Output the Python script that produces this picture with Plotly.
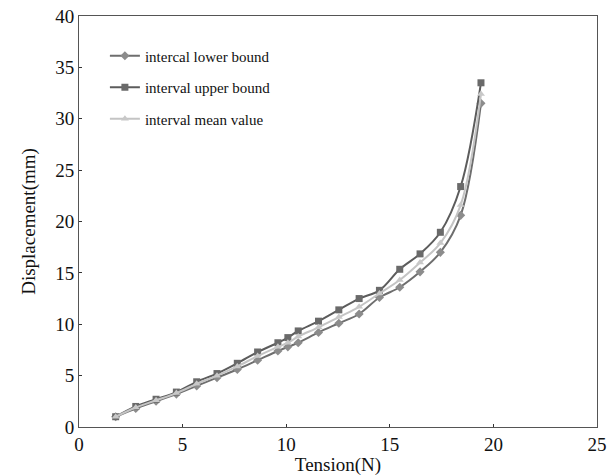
import plotly.graph_objects as go

tension = [1.77, 2.74, 3.72, 4.70, 5.68, 6.66, 7.64, 8.62, 9.60, 10.08,
           10.58, 11.56, 12.54, 13.52, 14.50, 15.48, 16.46, 17.44, 18.42, 19.40]
lower = [1.0, 1.8, 2.5, 3.2, 4.0, 4.8, 5.6, 6.5, 7.4, 7.8,
         8.2, 9.2, 10.1, 11.0, 12.6, 13.6, 15.1, 17.0, 20.6, 31.5]
upper = [1.0, 2.0, 2.7, 3.4, 4.4, 5.2, 6.2, 7.3, 8.2, 8.7,
         9.35, 10.3, 11.4, 12.5, 13.3, 15.35, 16.85, 18.95, 23.4, 33.5]
mean = [1.0, 1.9, 2.6, 3.3, 4.2, 5.0, 5.9, 6.9, 7.8, 8.2,
        8.8, 9.7, 10.7, 11.7, 13.0, 14.3, 16.0, 17.9, 21.6, 32.4]
names = ["intercal lower bound", "interval upper bound", "interval mean value"]

FONT = "Liberation Serif, Times New Roman, serif"

fig = go.Figure()
fig.add_trace(go.Scatter(x=tension, y=lower, name=names[0], mode="lines+markers",
                         line=dict(color="#6e6e6e", width=2, shape="spline"),
                         marker=dict(symbol="diamond", size=7, color="#8c8c8c"),
                         legendgroup="a"))
fig.add_trace(go.Scatter(x=tension, y=upper, name=names[1], mode="lines+markers",
                         line=dict(color="#5c5c5c", width=2, shape="spline"),
                         marker=dict(symbol="square", size=7, color="#6a6a6a"),
                         legendgroup="b"))
fig.add_trace(go.Scatter(x=tension, y=mean, name=names[2], mode="lines+markers",
                         line=dict(color="#c4c4c4", width=2, shape="spline"),
                         marker=dict(symbol="triangle-up", size=7, color="#c8c8c8"),
                         legendgroup="c"))

axis_common = dict(showline=True, linecolor="#555555", linewidth=1, mirror=True,
                   ticks="inside", ticklen=3, tickcolor="#333333", showgrid=False,
                   zeroline=False, automargin=False,
                   tickfont=dict(family=FONT, size=19, color="#111111"))

fig.update_layout(
    width=616, height=476,
    margin=dict(l=79, r=19, t=16, b=49),
    paper_bgcolor="white", plot_bgcolor="white",
    font=dict(family=FONT, color="#111111"),
    xaxis=dict(range=[0, 25], dtick=5, title=dict(text="Tension(N)", font=dict(family=FONT, size=19), standoff=1),
               **axis_common),
    yaxis=dict(range=[0, 40], dtick=5, title=dict(text="Displacement(mm)", font=dict(family=FONT, size=19), standoff=14),
               **axis_common),
    legend=dict(x=0.05, y=0.943, xanchor="left", yanchor="top", bgcolor="rgba(0,0,0,0)",
                font=dict(family=FONT, size=15), tracegroupgap=9),
    showlegend=True,
)

fig.write_html("out.html", config={"displayModeBar": False},
               post_script="document.body.style.margin='0';")
